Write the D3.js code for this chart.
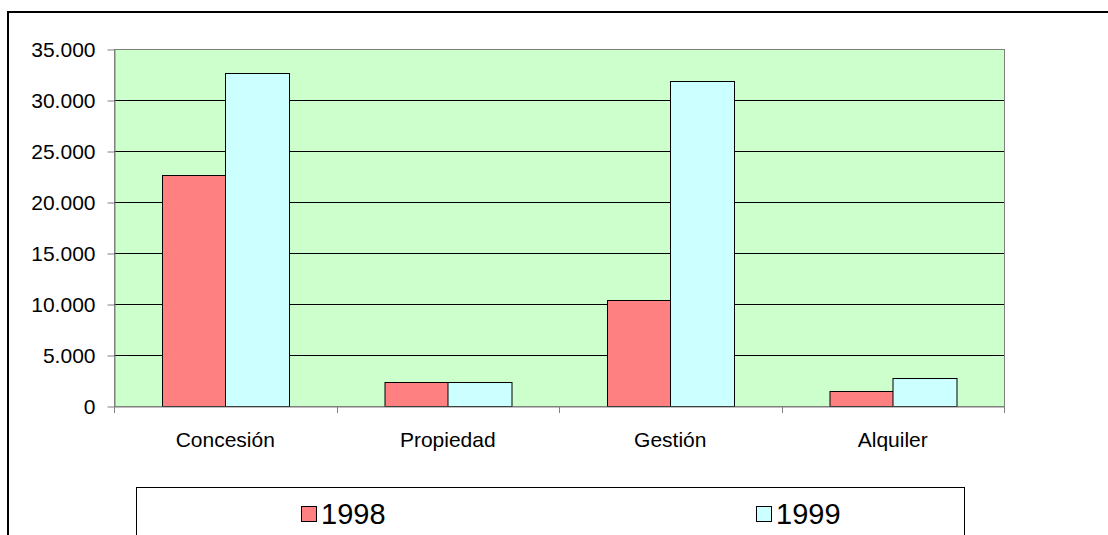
<!DOCTYPE html>
<html>
<head>
<meta charset="utf-8">
<script src="https://cdn.jsdelivr.net/npm/d3@7"></script>
<style>
  body { margin: 0; background: #fff; }
  #chart { width: 1108px; height: 535px; overflow: hidden; }
</style>
</head>
<body>
<div id="chart"></div>
<script>
var categories = ["Concesión", "Propiedad", "Gestión", "Alquiler"];
var years = ["1998", "1999"];
var values_1998 = [22600, 2400, 10400, 1500];
var values_1999 = [32600, 2400, 31900, 2700];
var y_ticks = [0, 5000, 10000, 15000, 20000, 25000, 30000, 35000];

var colors = {"1998": "#ff8080", "1999": "#ccffff"};

function bar_chart(id) {

  var W = 1108, H = 535,
      left = 114, top = 49, right = 1004, bottom = 406,
      font = "Liberation Sans, Arial, sans-serif",
      es = d3.formatLocale({decimal: ",", thousands: ".", grouping: [3], currency: ["", ""]}),
      formatter = es.format(",.0f");

  var rows = categories.map(function (c, i) {
    return {cat: c, values: [{year: "1998", v: values_1998[i]}, {year: "1999", v: values_1999[i]}]};
  });

  var x = d3.scaleBand()
        .domain(categories)
        .range([left, right]);

  // gap width 150% like the excel default
  var xs = d3.scaleBand()
        .domain(years)
        .paddingOuter(0.75)
        .range([0, x.bandwidth()]);

  var y = d3.scaleLinear()
        .domain([0, 35000])
        .range([bottom, top]);

  var svg = d3.select('#'+id)
        .append("svg")
        .attr("width", W)
        .attr("height", H)
        .style("font-family", font);

  /* outer chart frame, runs off the right and bottom */
  svg.append("rect")
    .attr("x", 8)
    .attr("y", 12)
    .attr("width", W + 50)
    .attr("height", H + 50)
    .style("fill", "#fff")
    .style("stroke", "#000")
    .style("stroke-width", 2);

  /* plot area */
  svg.append("rect")
    .attr("x", left + 0.5)
    .attr("y", top + 0.5)
    .attr("width", right - left)
    .attr("height", bottom - top)
    .style("fill", "#ccffcc")
    .style("stroke", "#808080");

  svg.selectAll(".grid")
    .data(y_ticks.filter(function (d) { return d > 0 && d < 35000; }))
    .enter().append("line")
    .attr("class", "grid")
    .attr("x1", left)
    .attr("x2", right)
    .attr("y1", function (d) { return Math.round(y(d)) + 0.5; })
    .attr("y2", function (d) { return Math.round(y(d)) + 0.5; })
    .style("stroke", "#000");

  /* bars */
  var groups = svg.selectAll(".cat")
        .data(rows)
        .enter().append("g")
        .attr("class", "cat")
        .attr("transform", function (d) { return "translate(" + x(d.cat) + ",0)"; });

  groups.selectAll(".bar")
    .data(function (d) { return d.values; })
    .enter().append("rect")
    .attr("class", "bar")
    .attr("x", function (d) { return Math.round(xs(d.year)) + 0.5; })
    .attr("y", function (d) { return Math.round(y(d.v)) + 0.5; })
    .attr("width", Math.round(xs.bandwidth()))
    .attr("height", function (d) { return Math.round(bottom - y(d.v)); })
    .style("fill", function (d) { return colors[d.year]; })
    .style("stroke", "#000");

  /* y axis */
  var yaxis = svg.append("g")
        .attr("transform", "translate(" + (left + 0.5) + ",0.5)")
        .call(d3.axisLeft(y).tickValues(y_ticks).tickSize(7).tickSizeOuter(0)
              .tickPadding(12).tickFormat(formatter));
  yaxis.select(".domain").style("stroke", "#808080");
  yaxis.selectAll("line").style("stroke", "#808080");
  yaxis.selectAll("text").style("font", "21px " + font).style("fill", "#000");

  /* x axis: labels in the middle, ticks on the band edges */
  var xaxis = svg.append("g")
        .attr("transform", "translate(0," + (bottom + 0.5) + ")")
        .call(d3.axisBottom(x).tickSize(0).tickPadding(26));
  xaxis.select(".domain").style("stroke", "#808080");
  xaxis.selectAll("text").style("font", "21px " + font).style("fill", "#000");

  svg.selectAll(".xtick")
    .data(categories.concat([null]))
    .enter().append("line")
    .attr("class", "xtick")
    .attr("x1", function (d) { return Math.round(d == null ? right : x(d)) + 0.5; })
    .attr("x2", function (d) { return Math.round(d == null ? right : x(d)) + 0.5; })
    .attr("y1", bottom)
    .attr("y2", bottom + 7)
    .style("stroke", "#808080");

  /* legend */
  svg.append("rect")
    .attr("x", 136.5)
    .attr("y", 487.5)
    .attr("width", 828)
    .attr("height", 100)
    .style("fill", "#fff")
    .style("stroke", "#000");

  var lx = d3.scalePoint().domain(years).range([301, 756]);

  var items = svg.selectAll(".legend")
        .data(years)
        .enter().append("g")
        .attr("class", "legend")
        .attr("transform", function (d) { return "translate(" + lx(d) + ",0)"; });

  items.append("rect")
    .attr("x", 0.5)
    .attr("y", 506.5)
    .attr("width", 15)
    .attr("height", 15)
    .style("fill", function (d) { return colors[d]; })
    .style("stroke", "#000");

  items.append("text")
    .attr("x", 20)
    .attr("y", 524)
    .style("font", "29px " + font)
    .text(function (d) { return d; });
}

bar_chart("chart");
</script>
</body>
</html>
